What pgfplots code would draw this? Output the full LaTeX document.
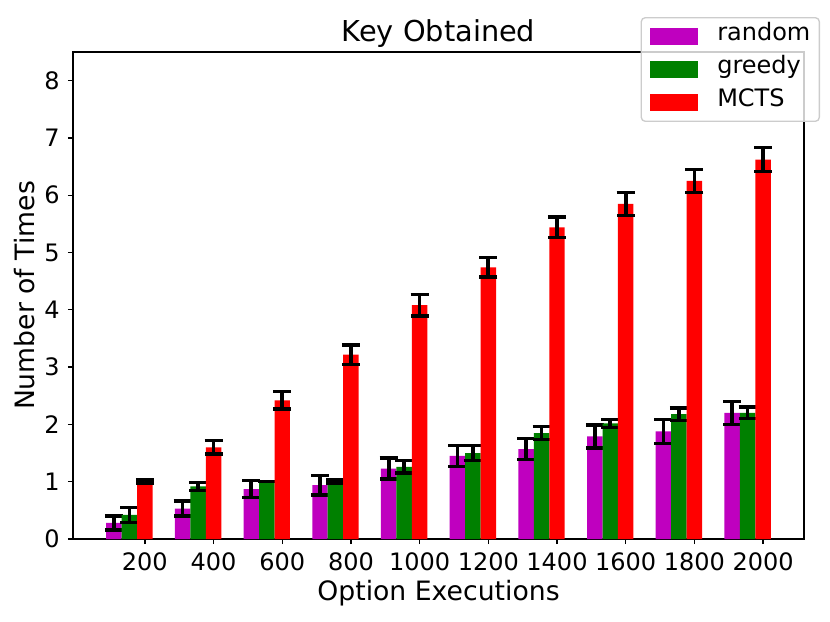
\documentclass[border=0pt]{standalone}
\usepackage{fontspec}
\setmainfont{DejaVu Sans}
\usepackage{pgfplots}
\pgfplotsset{compat=1.18}
\usepackage{pgfplotstable}

% group index, mean and error for each method
\pgfplotstableread{
x  rnd  rnde grd  grde mcts mctse
1  0.28 0.12 0.42 0.13 1.00 0.03
2  0.53 0.13 0.92 0.07 1.60 0.12
3  0.87 0.15 1.00 0.00 2.42 0.15
4  0.94 0.17 1.01 0.03 3.22 0.17
5  1.23 0.18 1.26 0.11 4.08 0.19
6  1.45 0.18 1.50 0.13 4.74 0.17
7  1.57 0.18 1.85 0.11 5.44 0.18
8  1.79 0.20 2.02 0.07 5.85 0.20
9  1.88 0.21 2.18 0.11 6.25 0.20
10 2.20 0.20 2.20 0.10 6.62 0.21
}\keydata

\definecolor{mplm}{rgb}{0.75,0,0.75}
\definecolor{mplg}{rgb}{0,0.5,0}
\definecolor{mplr}{rgb}{1,0,0}

\pgfplotsset{
  eb/.style={
    error bars/y dir=both, error bars/y explicit,
    error bars/error bar style={draw=black, line width=2.8pt},
    error bars/error mark options={draw=black, rotate=90, mark size=6.75pt, line width=2.6pt},
  },
}

\begin{document}
\fontsize{18}{21.6}\selectfont
\begin{tikzpicture}
\useasboundingbox (-54.75pt,-61.5pt) rectangle (567.75pt,404.25pt);
\begin{axis}[
  scale only axis, width=548.25pt, height=365.25pt,
  xmin=-0.046, xmax=10.596, ymin=0, ymax=8.5,
  ybar, bar width=0.225,
  xtick={1,...,10},
  xticklabels={200,400,600,800,1000,1200,1400,1600,1800,2000},
  ytick={0,...,8},
  tick align=outside, tick pos=left,
  major tick length=3.75pt,
  every tick/.style={black, line width=1pt},
  axis line style={line width=1.2pt},
  /pgf/number format/assume math mode=true,
  tick label style={font=\fontsize{18}{21.6}\selectfont},
  title={Key Obtained},
  title style={font=\fontsize{21.6}{26}\selectfont, at={(axis description cs:0.5,1.0218)}, anchor=base, yshift=-6pt, inner sep=0pt},
  xlabel={Option Executions},
  xlabel style={font=\fontsize{20}{24}\selectfont, at={(axis description cs:0.5,-0.1253)}, anchor=base, inner sep=0pt},
  ylabel={Number of Times},
  ylabel style={font=\fontsize{20}{24}\selectfont, at={(axis description cs:-0.052,0.5)}, anchor=south, inner sep=0pt},
  legend style={at={(axis description cs:1.0219,1.0718)}, anchor=north east,
    draw=black!20, line width=1pt, rounded corners=3pt,
    fill=white, fill opacity=0.8, text opacity=1,
    inner xsep=6.75pt, inner ysep=8pt, row sep=11.65pt, column sep=14.25pt,
    font=\fontsize{18}{21.6}\selectfont, cells={anchor=west},
    nodes={inner sep=0pt, text height=9.4pt, text depth=3.35pt}},
]
\addplot[fill=mplm, draw=none, bar shift=-0.45, eb,
  legend image code/.code={\fill[mplm, fill opacity=1, sharp corners] (0pt,-6.4pt) rectangle (36pt,6.4pt);}]
  table[x=x, y=rnd, y error=rnde] {\keydata};
\addlegendentry{random}
\addplot[fill=mplg, draw=none, bar shift=-0.225, eb,
  legend image code/.code={\fill[mplg, fill opacity=1, sharp corners] (0pt,-6.4pt) rectangle (36pt,6.4pt);}]
  table[x=x, y=grd, y error=grde] {\keydata};
\addlegendentry{greedy}
\addplot[fill=mplr, draw=none, bar shift=0, eb,
  legend image code/.code={\fill[mplr, fill opacity=1, sharp corners] (0pt,-6.4pt) rectangle (36pt,6.4pt);}]
  table[x=x, y=mcts, y error=mctse] {\keydata};
\addlegendentry{MCTS}
\end{axis}
\end{tikzpicture}
\end{document}
